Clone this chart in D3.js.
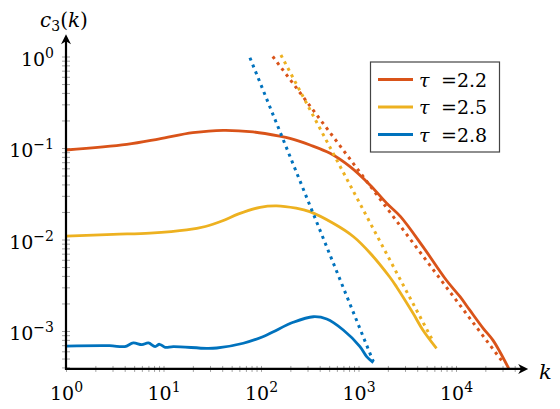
<!DOCTYPE html>
<html>
<head>
<meta charset="utf-8">
<script src="https://cdn.jsdelivr.net/npm/d3@7"></script>
<style>
  body { margin: 0; background: #fff; }
  svg { display: block; }
  svg text { font-family: "DejaVu Serif", FreeSerif, serif !important; }
</style>
</head>
<body>
<svg id="chart" width="560" height="409"></svg>
<script>
// tau = 2.2
const kRed = [1, 4.2, 9.1, 20, 41, 83, 155, 198, 318, 511, 819, 1312, 1945, 2700, 4600, 7900, 11000, 13800, 19000, 24000, 34700];
const cRed = [0.0951, 0.1096, 0.126, 0.147, 0.156, 0.150, 0.135, 0.1276, 0.1079, 0.0875, 0.0625, 0.0394, 0.0249, 0.0178, 0.0083, 0.00363, 0.00237, 0.0017, 0.00107, 0.00079, 0.00039];
// tau = 2.5
const kYellow = [1, 3.05, 7.28, 17.3, 26.9, 39.8, 58.9, 97.7, 144.5, 229, 316, 550, 890, 1320, 2090, 2450, 3630, 4570, 6310];
const cYellow = [0.0109, 0.0114, 0.01175, 0.01271, 0.01387, 0.01592, 0.01905, 0.02249, 0.02333, 0.02198, 0.02014, 0.01503, 0.01072, 0.00708, 0.00389, 0.00305, 0.00156, 0.001026, 0.000646];
// tau = 2.8
const kBlue = [1, 2.8, 4.0, 4.9, 6.0, 7.0, 8.2, 9.1, 10.4, 12.6, 27.7, 35.2, 65.8, 106, 134, 214, 344, 472, 698, 1035, 1213, 1419];
const cBlue = [6.85e-4, 6.92e-4, 6.76e-4, 7.40e-4, 7.08e-4, 7.40e-4, 6.76e-4, 7.16e-4, 6.64e-4, 6.76e-4, 6.46e-4, 6.52e-4, 7.35e-4, 8.71e-4, 9.82e-4, 1.245e-3, 1.432e-3, 1.352e-3, 1.026e-3, 6.76e-4, 5.25e-4, 4.51e-4];

// dotted power law guides, two end points each
const fitRedK = [132, 29600];
const fitRedC = [1.0, 4.7e-4];
const fitYellowK = [160, 5850];
const fitYellowC = [1.04, 7.64e-4];
const fitBlueK = [77, 1420];
const fitBlueC = [0.97, 4.62e-4];

const tauLabels = ["2.2", "2.5", "2.8"];
const majorK = [1, 10, 100, 1000, 10000];
const majorC = [1e-3, 1e-2, 1e-1, 1];

const colors = ["#D95319", "#EDB120", "#0072BD"];

const svg = d3.select("#chart");

// log scales, the axis ends run a bit past the last decade
const x = d3.scaleLog().domain([1, 1e4]).range([66, 456]);
const y = d3.scaleLog().domain([1e-3, 1]).range([331, 56.5]);
const kEnd = 5.5e4;
const cLow = 3.85e-4;
const cHigh = 1.75;

const x0 = x(1);
const y0 = y(cLow);

// minor + major tick positions
const kTicks = [];
for (let e = 0; e <= 4; e++) {
  for (let m = 1; m <= 9; m++) {
    const v = m * Math.pow(10, e);
    if (v <= 4e4) kTicks.push(v);
  }
}
const cTicks = [];
for (let e = -4; e <= 0; e++) {
  for (let m = 1; m <= 9; m++) {
    const v = m * Math.pow(10, e);
    if (v >= 4e-4 && v <= 1) cTicks.push(v);
  }
}

const gxTicks = svg.append("g")
  .attr("transform", `translate(0,${y0})`)
  .call(d3.axisBottom(x).tickValues(kTicks).tickSize(3).tickFormat(""));
gxTicks.select(".domain").remove();
gxTicks.selectAll(".tick line").attr("y1", -3).attr("stroke", "#8a8a8a").attr("stroke-width", 0.8);

const gyTicks = svg.append("g")
  .attr("transform", `translate(${x0},0)`)
  .call(d3.axisLeft(y).tickValues(cTicks).tickSize(4).tickFormat(""));
gyTicks.select(".domain").remove();
gyTicks.selectAll(".tick line").attr("x1", 4).attr("stroke", "#8a8a8a").attr("stroke-width", 0.8);

// 10^n labels with a superscript
function powerLabel(sel) {
  sel.each(function(d) {
    const n = Math.round(Math.log10(d));
    const t = d3.select(this).text(null);
    t.append("tspan").text("10");
    t.append("tspan").attr("dy", -8).attr("font-size", 14).text(String(n).replace("-", "\u2212"));
  });
}

const gxLab = svg.append("g")
  .attr("transform", `translate(0,${y0})`)
  .call(d3.axisBottom(x).tickValues(majorK).tickSize(0).tickFormat(""));
gxLab.select(".domain").remove();
gxLab.attr("font-family", null).attr("font-size", 19);
gxLab.selectAll(".tick text")
  .attr("y", 31).attr("dy", null).attr("fill", "#000")
  .call(powerLabel);

const gyLab = svg.append("g")
  .attr("transform", `translate(${x0},0)`)
  .call(d3.axisLeft(y).tickValues(majorC).tickSize(0).tickFormat(""));
gyLab.select(".domain").remove();
gyLab.attr("font-family", null).attr("font-size", 19);
gyLab.selectAll(".tick text")
  .attr("x", -12).attr("dy", "0.45em").attr("fill", "#000")
  .call(powerLabel);

// curves
const line = d3.line()
  .x(d => x(d[0]))
  .y(d => y(d[1]))
  .curve(d3.curveCatmullRom.alpha(0.5));

const solid = [
  d3.zip(kRed, cRed),
  d3.zip(kYellow, cYellow),
  d3.zip(kBlue, cBlue)
];
const fits = [
  d3.zip(fitRedK, fitRedC),
  d3.zip(fitYellowK, fitYellowC),
  d3.zip(fitBlueK, fitBlueC)
];

svg.append("g").selectAll("path")
  .data(solid)
  .enter()
  .append("path")
  .attr("d", line)
  .attr("fill", "none")
  .attr("stroke", (d, i) => colors[i])
  .attr("stroke-width", 2.8)
  .attr("stroke-linejoin", "round");

svg.append("g").selectAll("path")
  .data(fits)
  .enter()
  .append("path")
  .attr("d", d3.line().x(d => x(d[0])).y(d => y(d[1])))
  .attr("fill", "none")
  .attr("stroke", (d, i) => colors[i])
  .attr("stroke-width", 3)
  .attr("stroke-dasharray", "3 4.4");

// axis lines with stealth arrows
const xTip = x(kEnd);
const yTip = y(cHigh);
svg.append("line")
  .attr("x1", x0).attr("y1", y0).attr("x2", xTip - 4).attr("y2", y0)
  .attr("stroke", "#000").attr("stroke-width", 2.2);
svg.append("line")
  .attr("x1", x0).attr("y1", y0 + 1.1).attr("x2", x0).attr("y2", yTip + 4)
  .attr("stroke", "#000").attr("stroke-width", 2.2);
svg.append("path")
  .attr("d", `M${xTip},${y0} L${xTip - 10},${y0 - 5} L${xTip - 7},${y0} L${xTip - 10},${y0 + 5} Z`)
  .attr("fill", "#000");
svg.append("path")
  .attr("d", `M${x0},${yTip} L${x0 - 5},${yTip + 10} L${x0},${yTip + 7} L${x0 + 5},${yTip + 10} Z`)
  .attr("fill", "#000");

// axis titles
const yTitle = svg.append("text").attr("x", 40).attr("y", 27).attr("font-size", 20);
yTitle.append("tspan").attr("font-style", "italic").text("c");
yTitle.append("tspan").attr("font-size", 14).attr("dy", 4).text("3");
yTitle.append("tspan").attr("dy", -4).text("(");
yTitle.append("tspan").attr("font-style", "italic").text("k");
yTitle.append("tspan").text(")");

svg.append("text")
  .attr("x", 539).attr("y", 379)
  .attr("font-size", 21).attr("font-style", "italic")
  .text("k");

// legend
const legend = svg.append("g");
legend.append("rect")
  .attr("x", 370.5).attr("y", 62).attr("width", 129).attr("height", 90)
  .attr("fill", "#fff").attr("stroke", "#444").attr("stroke-width", 1.2);
const rows = legend.selectAll("g.row")
  .data(tauLabels)
  .enter()
  .append("g")
  .attr("class", "row")
  .attr("transform", (d, i) => `translate(0,${79.5 + i * 27.5})`);
rows.append("line")
  .attr("x1", 378).attr("x2", 413).attr("y1", 0).attr("y2", 0)
  .attr("stroke", (d, i) => colors[i]).attr("stroke-width", 2.8);
const lt = rows.append("text").attr("x", 419).attr("y", 7).attr("font-size", 19);
lt.append("tspan").attr("font-style", "italic").text("\u03c4");
lt.append("tspan").attr("x", 441).text("=");
lt.append("tspan").text(d => d);
</script>
</body>
</html>
